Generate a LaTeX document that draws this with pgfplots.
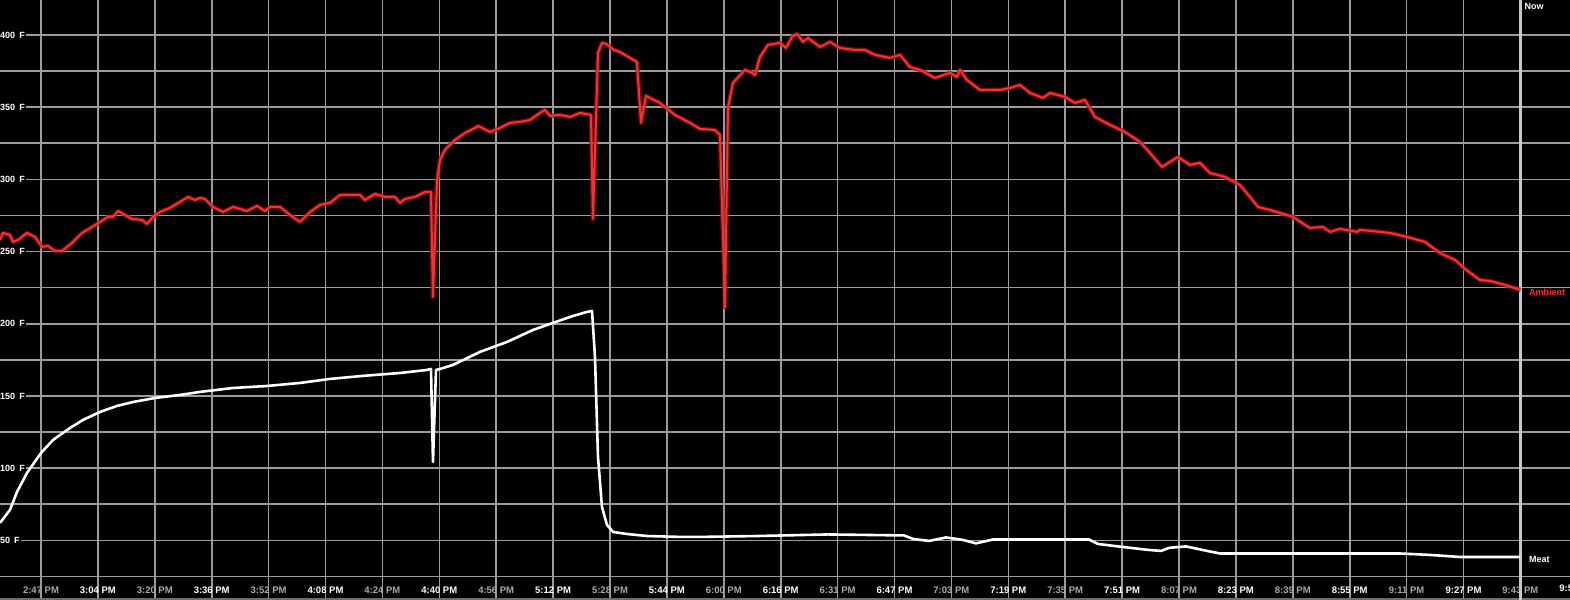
\documentclass[border=0pt]{standalone}
\usepackage{pgfplots}
\pgfplotsset{compat=1.18}
\usepackage{pgfplotstable}
\usepackage{fontspec}
\setmainfont{Liberation Sans}
\definecolor{gridc}{RGB}{155,155,155}
\definecolor{nowc}{RGB}{200,200,200}
\definecolor{ambred}{RGB}{255,45,45}
\definecolor{ambglow}{RGB}{150,20,20}
\definecolor{tgray}{RGB}{170,170,170}
\definecolor{barc}{RGB}{110,110,110}

\pgfplotstableread{
x F
-0.721 258.0
-0.668 262.9
-0.545 261.5
-0.492 256.7
-0.404 258.0
-0.246 262.9
-0.105 260.1
0.018 253.2
0.123 253.9
0.246 250.4
0.369 250.4
0.545 256.0
0.721 262.9
0.896 267.0
1.037 270.5
1.178 274.0
1.265 274.0
1.353 278.1
1.476 275.3
1.599 272.6
1.775 271.9
1.863 269.1
1.968 274.0
2.091 277.4
2.267 280.2
2.443 284.4
2.583 287.8
2.707 285.7
2.794 287.1
2.882 286.4
3.023 280.9
3.199 277.4
3.374 280.9
3.620 278.1
3.796 281.6
3.937 278.1
4.025 280.9
4.200 280.9
4.376 275.3
4.552 270.5
4.728 277.4
4.903 282.3
5.079 283.7
5.255 289.2
5.606 289.2
5.694 285.7
5.870 289.9
6.046 287.8
6.221 287.8
6.309 283.7
6.397 286.4
6.573 287.8
6.749 291.3
6.854 291.3
6.889 218.6
6.960 299.6
7.012 313.4
7.100 320.4
7.276 327.3
7.452 332.1
7.627 335.6
7.680 337.0
7.891 332.8
8.067 335.6
8.243 339.1
8.418 339.8
8.594 341.1
8.770 346.0
8.858 348.1
8.946 343.9
9.121 344.6
9.297 343.2
9.473 346.0
9.666 344.6
9.701 272.6
9.789 387.5
9.859 394.5
9.930 393.8
10.070 389.6
10.176 388.2
10.351 384.1
10.474 381.3
10.545 339.1
10.633 357.8
10.879 352.9
11.142 344.6
11.406 339.1
11.582 334.9
11.845 334.2
11.933 330.7
12.021 211.6
12.074 350.1
12.162 366.8
12.373 375.8
12.496 373.7
12.548 372.3
12.636 384.8
12.777 393.1
12.988 394.5
13.093 391.0
13.199 398.6
13.286 400.7
13.392 395.2
13.480 397.9
13.691 391.7
13.866 395.2
14.042 391.0
14.306 389.6
14.482 389.6
14.657 386.2
14.921 384.1
15.097 386.2
15.272 377.8
15.448 375.8
15.712 370.2
15.975 373.7
16.098 370.9
16.151 375.8
16.274 368.8
16.503 361.9
16.678 361.9
16.854 361.9
17.030 363.3
17.206 365.4
17.381 359.8
17.610 356.4
17.733 359.8
17.996 357.1
18.172 352.9
18.348 355.0
18.524 343.2
18.787 337.7
19.051 332.8
19.315 325.9
19.490 318.3
19.701 308.6
19.842 312.1
19.982 315.5
20.193 310.0
20.369 311.4
20.545 304.4
20.808 301.7
21.072 296.1
21.248 287.8
21.388 280.9
21.599 278.8
21.775 276.7
22.004 274.0
22.215 268.4
22.302 266.4
22.531 267.0
22.654 263.6
22.830 265.7
23.128 263.6
23.181 265.0
23.708 262.9
24.007 260.1
24.323 256.7
24.587 249.0
24.851 244.2
25.026 238.0
25.290 230.3
25.466 229.6
25.729 226.9
26.000 223.4
}\ambient

\pgfplotstableread{
x F
-0.721 62.1
-0.545 71.1
-0.422 83.5
-0.246 96.7
0.000 110.5
0.211 119.5
0.510 127.8
0.738 133.4
1.037 138.9
1.336 143.1
1.617 145.8
2.004 148.6
2.443 150.7
2.794 152.8
3.374 155.5
3.972 156.9
4.552 159.0
5.079 161.8
5.659 163.9
6.309 165.9
6.784 168.0
6.854 168.7
6.889 104.3
6.942 168.0
7.012 168.7
7.241 171.5
7.715 180.5
8.190 187.4
8.647 195.7
8.998 200.6
9.350 205.4
9.596 208.2
9.684 208.9
9.736 177.0
9.789 107.8
9.859 73.1
9.947 60.7
10.053 55.8
10.299 54.4
10.650 53.0
11.230 52.4
11.617 52.4
12.583 53.0
13.831 54.1
15.167 53.4
15.325 51.0
15.606 49.6
15.905 52.0
16.204 50.3
16.432 47.9
16.731 50.6
18.418 50.6
18.576 47.5
19.016 45.4
19.455 43.4
19.684 42.7
19.824 44.8
20.123 45.8
20.492 42.7
20.721 40.9
22.478 40.9
23.884 40.9
24.411 39.9
24.938 38.5
26.000 38.5
}\meat

\begin{document}
\begin{tikzpicture}
\begin{axis}[
  scale only axis,
  width=1570pt, height=600pt,
  xmin=-0.7206, xmax=26.872,
  ymin=8.7, ymax=424.2,
  axis background/.style={fill=black},
  axis y line*=left,
  y axis line style={draw=none},
  axis x line*=bottom,
  x axis line style={barc, line width=3pt, -},
  major tick length=0pt, minor tick length=0pt,
  xtick={0,...,26},
  xticklabels={
    \textcolor{tgray}{2:47 PM},3:04 PM,\textcolor{tgray}{3:20 PM},3:36 PM,
    \textcolor{tgray}{3:52 PM},4:08 PM,\textcolor{tgray}{4:24 PM},4:40 PM,
    \textcolor{tgray}{4:56 PM},5:12 PM,\textcolor{tgray}{5:28 PM},5:44 PM,
    \textcolor{tgray}{6:00 PM},6:16 PM,\textcolor{tgray}{6:31 PM},6:47 PM,
    \textcolor{tgray}{7:03 PM},7:19 PM,\textcolor{tgray}{7:35 PM},7:51 PM,
    \textcolor{tgray}{8:07 PM},8:23 PM,\textcolor{tgray}{8:39 PM},8:55 PM,
    \textcolor{tgray}{9:11 PM},9:27 PM,\textcolor{tgray}{9:43 PM}},
  xticklabel style={anchor=base, yshift=6pt, font=\bfseries\fontsize{9.5}{10}\selectfont, text=white},
  ytick={50,100,...,400},
  minor ytick={25,75,...,425},
  yticklabels={50\hspace{0.45em}F,100\hspace{0.45em}F,150\hspace{0.45em}F,200\hspace{0.45em}F,250\hspace{0.45em}F,300\hspace{0.45em}F,350\hspace{0.45em}F,400\hspace{0.45em}F},
  yticklabel style={anchor=west, xshift=-1pt, font=\bfseries\fontsize{9}{10}\selectfont, text=white, fill=black, inner sep=1pt},
  grid=both,
  major grid style={gridc, line width=1.6pt},
  minor grid style={gridc, line width=1.6pt},
  clip=true,
]
\draw[nowc, line width=3pt] (axis cs:26,8.7) -- (axis cs:26,424.2);
\addplot[ambglow, line width=4.5pt, opacity=0.7, line join=round] table[x=x,y=F] {\ambient};
\addplot[ambred, line width=2pt, line join=round] table[x=x,y=F] {\ambient};
\addplot[white, line width=2.6pt, line join=round] table[x=x,y=F] {\meat};
\node[anchor=west, text=white, font=\bfseries\fontsize{9}{10}\selectfont, inner sep=0pt] at (axis cs:26.07,419.5) {Now};
\node[anchor=west, text=ambred, font=\bfseries\fontsize{9}{10}\selectfont, inner sep=0pt] at (axis cs:26.15,221.5) {Ambient};
\node[anchor=west, text=white, font=\bfseries\fontsize{9}{10}\selectfont, inner sep=0pt] at (axis cs:26.15,37) {Meat};
\node[anchor=base, text=white, font=\bfseries\fontsize{9.5}{10}\selectfont] at (axis cs:27,14.3) {9:59 PM};
\end{axis}
\pgfresetboundingbox
\path[use as bounding box] (current axis.south west) rectangle (current axis.north east);
\end{tikzpicture}
\end{document}
